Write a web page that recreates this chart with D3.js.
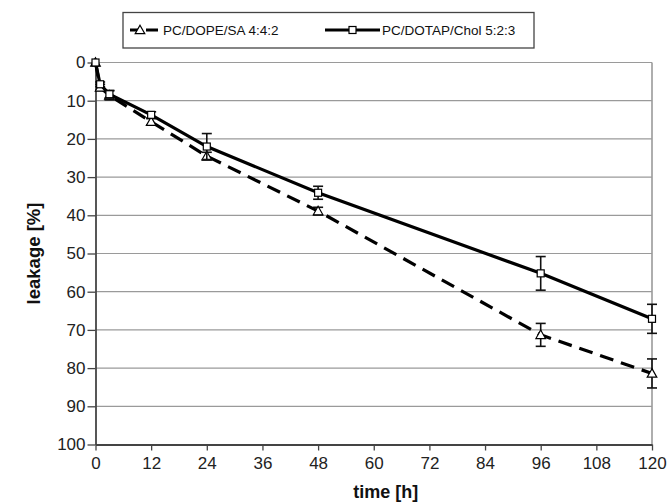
<!DOCTYPE html>
<html>
<head>
<meta charset="utf-8">
<script src="https://cdn.jsdelivr.net/npm/d3@7/dist/d3.min.js"></script>
<style>
  html, body { margin: 0; padding: 0; background: #fff; }
  svg { display: block; font-family: "Liberation Sans", Arial, Helvetica, sans-serif; }
</style>
</head>
<body>
<svg id="chart" width="668" height="502"></svg>
<script>
// ---- data ----
const seriesNames = ["PC/DOPE/SA 4:4:2", "PC/DOTAP/Chol 5:2:3"];
const times = [0, 1, 3, 12, 24, 48, 96, 120];
const dopeValues = [0, 6.5, 8.6, 15.5, 24.5, 38.9, 71.3, 81.4];
const dopeErrors = [0, 0.8, 1.2, 0.8, 1.0, 1.0, 3.0, 3.8];
const dotapValues = [0, 5.7, 8.3, 13.7, 22.0, 34.1, 55.2, 67.1];
const dotapErrors = [0, 0.6, 1.0, 0.8, 3.4, 1.7, 4.4, 3.8];
const xTicks = [0, 12, 24, 36, 48, 60, 72, 84, 96, 108, 120];
const yTicks = [0, 10, 20, 30, 40, 50, 60, 70, 80, 90, 100];

const svg = d3.select("#chart");
const L = 95.5, R = 652, T = 62.5, B = 444.5;
const x = d3.scaleLinear().domain([0, 120]).range([L, R]);
const y = d3.scaleLinear().domain([0, 100]).range([T, B]);

// grid lines
svg.append("g").selectAll("line").data(yTicks.filter(d => d < 100)).join("line")
  .attr("x1", L).attr("x2", R).attr("y1", d => y(d)).attr("y2", d => y(d))
  .attr("stroke", "#9a9a9a").attr("stroke-width", 1.2);
// right border
svg.append("line").attr("x1", R).attr("x2", R).attr("y1", T).attr("y2", B)
  .attr("stroke", "#9a9a9a").attr("stroke-width", 1.6);

// axes
const yAxis = svg.append("g").attr("transform", `translate(${L},0)`)
  .call(d3.axisLeft(y).tickValues(yTicks).tickSize(8).tickPadding(2).tickSizeOuter(0));
const xAxis = svg.append("g").attr("transform", `translate(0,${B})`)
  .call(d3.axisBottom(x).tickValues(xTicks).tickSize(6).tickPadding(6).tickSizeOuter(0));
[yAxis, xAxis].forEach(a => {
  a.select(".domain").attr("stroke", "#444").attr("stroke-width", 1.8);
  a.selectAll(".tick line").attr("stroke", "#444").attr("stroke-width", 1.3);
  a.selectAll(".tick text").attr("font-size", 17).attr("fill", "#222")
    .attr("font-family", "Liberation Sans, Arial, sans-serif");
});

// axis titles
svg.append("text").attr("x", (L + R) / 2 + 12).attr("y", 498).attr("text-anchor", "middle")
  .attr("font-size", 18).attr("font-weight", "bold").attr("fill", "#111").text("time [h]");
svg.append("text").attr("transform", `translate(40,${(T + B) / 2}) rotate(-90)`)
  .attr("text-anchor", "middle").attr("font-size", 18.5).attr("font-weight", "bold")
  .attr("fill", "#111").text("leakage [%]");

const series = [
  { name: seriesNames[0], vals: dopeValues, errs: dopeErrors, dash: "14,8", marker: "tri" },
  { name: seriesNames[1], vals: dotapValues, errs: dotapErrors, dash: null, marker: "sq" }
];

const line = d3.line().x(d => x(d.t)).y(d => y(d.v));
const triPath = "M0,-4.8L4.8,3.7L-4.8,3.7Z";

series.forEach(s => {
  const pts = times.map((t, i) => ({ t, v: s.vals[i], e: s.errs[i] }));
  const g = svg.append("g");
  // error bars
  const eb = g.selectAll(".eb").data(pts.filter(p => p.e > 0)).join("g");
  eb.append("line").attr("x1", p => x(p.t)).attr("x2", p => x(p.t))
    .attr("y1", p => y(p.v - p.e)).attr("y2", p => y(p.v + p.e))
    .attr("stroke", "#111").attr("stroke-width", 1.6);
  [-1, 1].forEach(sgn => {
    eb.append("line").attr("x1", p => x(p.t) - 5).attr("x2", p => x(p.t) + 5)
      .attr("y1", p => y(p.v + sgn * p.e)).attr("y2", p => y(p.v + sgn * p.e))
      .attr("stroke", "#111").attr("stroke-width", 1.6);
  });
  g.append("path").datum(pts).attr("d", line).attr("fill", "none")
    .attr("stroke", "#000").attr("stroke-width", 3.2)
    .attr("stroke-dasharray", s.dash);
  if (s.marker === "sq") {
    g.selectAll("rect").data(pts).join("rect")
      .attr("x", p => x(p.t) - 3.5).attr("y", p => y(p.v) - 3.5)
      .attr("width", 7).attr("height", 7)
      .attr("fill", "#fff").attr("stroke", "#000").attr("stroke-width", 1.2);
  } else {
    g.selectAll("path.m").data(pts).join("path").attr("class", "m")
      .attr("transform", p => `translate(${x(p.t)},${y(p.v)})`)
      .attr("d", triPath)
      .attr("fill", "#fff").attr("stroke", "#000").attr("stroke-width", 1.2);
  }
});

// legend
const lg = svg.append("g");
lg.append("rect").attr("x", 123).attr("y", 12.5).attr("width", 411).attr("height", 35.5)
  .attr("fill", "#fff").attr("stroke", "#444").attr("stroke-width", 1.3);
const ly = 30;
const legendItems = [
  { s: series[0], x1: 130, x2: 158, text: 163 },
  { s: series[1], x1: 325, x2: 380, text: 382 }
];
legendItems.forEach(it => {
  lg.append("line").attr("x1", it.x1).attr("x2", it.x2).attr("y1", ly).attr("y2", ly)
    .attr("stroke", "#000").attr("stroke-width", 3.2)
    .attr("stroke-dasharray", it.s.dash ? "12,4" : null);
  const cx = (it.x1 + it.x2) / 2 + (it.s.marker === "tri" ? -4 : 0);
  if (it.s.marker === "sq") {
    lg.append("rect").attr("x", cx - 3.5).attr("y", ly - 3.5).attr("width", 7).attr("height", 7)
      .attr("fill", "#fff").attr("stroke", "#000").attr("stroke-width", 1.2);
  } else {
    lg.append("path").attr("transform", `translate(${cx},${ly})`).attr("d", triPath)
      .attr("fill", "#fff").attr("stroke", "#000").attr("stroke-width", 1.2);
  }
  lg.append("text").attr("x", it.text).attr("y", ly + 4.5).attr("font-size", 13.5)
    .attr("fill", "#111").text(it.s.name);
});
</script>
</body>
</html>
